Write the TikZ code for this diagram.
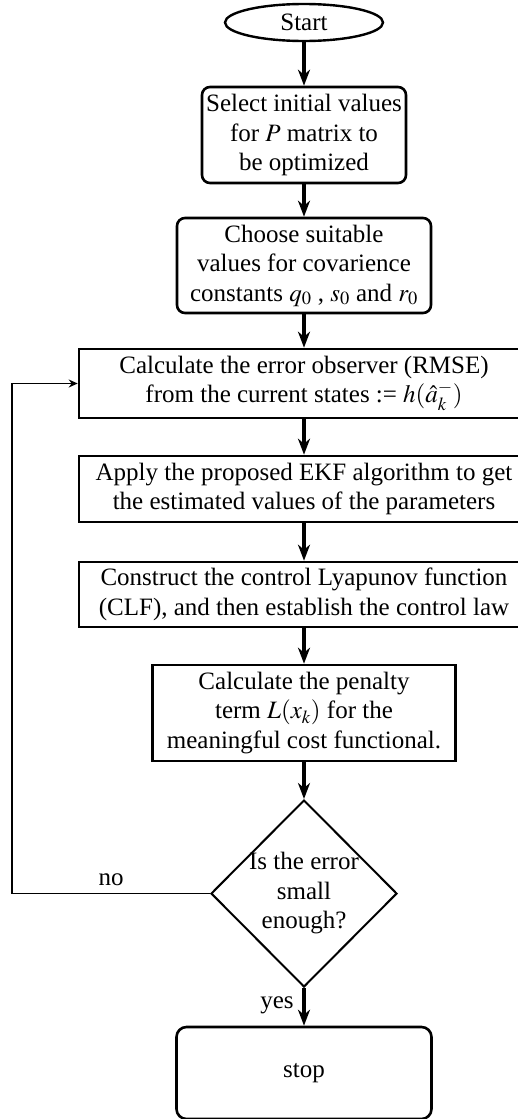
\documentclass[tikz,border=0pt]{standalone}
\usepackage{mathptmx}
\usepackage{fontspec}
\setmainfont{Liberation Serif}
\usetikzlibrary{shapes.geometric,arrows.meta}
\tikzset{
  txt/.style={font=\fontsize{25}{29.5}\selectfont, align=center, inner sep=0pt},
  base/.style={txt, draw, line width=2.6pt},
  rbox/.style={base, rounded corners=8pt},
  sbox/.style={base},
  flow/.style={line width=4pt, -{Stealth[length=16pt,width=12pt,inset=5pt]}},
  back/.style={line width=1.8pt, -{Stealth[length=9pt,width=8pt,inset=3pt]}},
}
\begin{document}
\begin{tikzpicture}[x=1pt,y=-1pt]
\useasboundingbox (0,0) rectangle (517,1119);
\node[base, ellipse, line width=2.4pt, minimum width=158, minimum height=37] (start) at (304,22.5) {Start};
\node[rbox, minimum width=204, minimum height=96] (b1) at (304,135) {Select initial values\\ for $P$ matrix to\\ be optimized};
\node[rbox, minimum width=254, minimum height=95] (b2) at (304,265.5) {Choose suitable\\ values for covarience\\ constants $q_0$ , $s_0$ and $r_0$};
\node[sbox, minimum width=450, minimum height=69] (b3) at (304,383.5) {Calculate the error observer (RMSE)\\ from the current states := $h(\hat{a}_k^-)$};
\node[sbox, minimum width=450, minimum height=66] (b4) at (304,489) {Apply the proposed EKF algorithm to get\\ the estimated values of the parameters};
\node[sbox, minimum width=450, minimum height=65] (b5) at (304,594.5) {Construct the control Lyapunov function\\ (CLF), and then establish the control law};
\node[sbox, minimum width=303, minimum height=96] (b6) at (304,713) {Calculate the penalty\\ term $L(x_k)$ for the\\ meaningful cost functional.};
\node[diamond, draw, line width=2pt, minimum width=186, minimum height=187, inner sep=0pt] (dec) at (304,893.5) {};
\node[txt] (dectext) at (304,893.5) {Is the error\\ small\\ enough?};
\node[rbox, rounded corners=10pt, minimum width=255, minimum height=92] (stop) at (304,1073) {stop};
\coordinate (lc) at (12,893.5);
\node[txt] (nolbl) at (111,880) {no};
\node[txt] (yeslbl) at (277,1005) {yes};
\draw[flow] (start) -- (b1);
\draw[flow] (b1) -- (b2);
\draw[flow] (b2) -- (b3);
\draw[flow] (b3) -- (b4);
\draw[flow] (b4) -- (b5);
\draw[flow] (b5) -- (b6);
\draw[flow] (b6) -- (dec);
\draw[flow] (dec) -- (stop);
\draw[back] (dec.west) -- (lc) |- (b3.west);
\end{tikzpicture}
\end{document}
